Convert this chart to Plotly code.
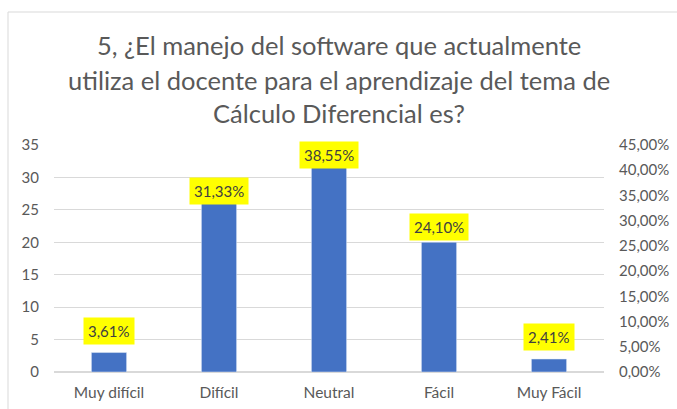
import plotly.graph_objects as go

categories = ["Muy difícil", "Difícil", "Neutral", "Fácil", "Muy Fácil"]
counts = [3, 26, 32, 20, 2]
percents = [3.61, 31.33, 38.55, 24.10, 2.41]
percent_labels = ["3,61%", "31,33%", "38,55%", "24,10%", "2,41%"]

title_lines = ["5, ¿El manejo del software que actualmente",
               "utiliza el docente para el aprendizaje del tema de",
               "Cálculo Diferencial es?"]

FONT = "Lato"
GREY = "#595959"
PLOT_H = 409 - 145 - 37

fig = go.Figure()
fig.add_trace(go.Bar(
    x=categories, y=counts, marker_color="#4472C4", width=0.32,
    showlegend=False, hoverinfo="x+y"))
fig.add_trace(go.Scatter(
    x=categories, y=[p / 100 for p in percents], yaxis="y2", mode="markers",
    marker=dict(opacity=0), showlegend=False, hoverinfo="skip"))

for c, p, t in zip(categories, percents, percent_labels):
    fig.add_annotation(
        x=c, y=p / 100, xref="x", yref="y2", text=t, showarrow=False,
        yshift=23, bgcolor="#FFFF00", borderpad=4,
        font=dict(family=FONT, size=15, color="#404040"))

# title lines, pixel centres 45, 80, 113 from the top of the figure
for line, py in zip(title_lines, [45, 80, 113]):
    fig.add_annotation(
        text=line, xref="paper", yref="paper", x=0.5 + 9.5 / 550, xanchor="center",
        y=(409 - 37 - py) / PLOT_H, yanchor="middle", showarrow=False,
        font=dict(family=FONT, size=25.5, color=GREY))

fig.update_layout(
    width=677, height=409,
    margin=dict(l=54, r=73, t=145, b=37),
    paper_bgcolor="white", plot_bgcolor="white",
    separators=",.",
    font=dict(family=FONT, size=15, color=GREY),
    xaxis=dict(showgrid=False, showline=False, ticks="", ticklabelstandoff=9,
               automargin=False,
               tickfont=dict(family=FONT, size=15.5, color=GREY)),
    yaxis=dict(range=[0, 35], dtick=5, showgrid=True, gridcolor="#D9D9D9",
               gridwidth=1, zeroline=True, zerolinecolor="#D9D9D9",
               showline=False, ticks="", ticklabelstandoff=14, automargin=False,
               tickfont=dict(family=FONT, size=15, color=GREY)),
    yaxis2=dict(range=[0, 0.45], dtick=0.05, tickformat=".2%", overlaying="y",
                side="right", showgrid=False, zeroline=False, showline=False,
                ticks="", ticklabelstandoff=14, automargin=False,
                tickfont=dict(family=FONT, size=15, color=GREY)),
)

fig.add_shape(type="rect", xref="paper", yref="paper",
              x0=-46 / 550, x1=(677 - 54 + 10) / 550, y0=-0.2,
              y1=(409 - 12 - 37) / PLOT_H,
              line=dict(color="#D9D9D9", width=1), fillcolor="rgba(0,0,0,0)",
              layer="below")

fig.write_html("out.html", config={"displayModeBar": False},
               post_script="document.body.style.margin='0';")
